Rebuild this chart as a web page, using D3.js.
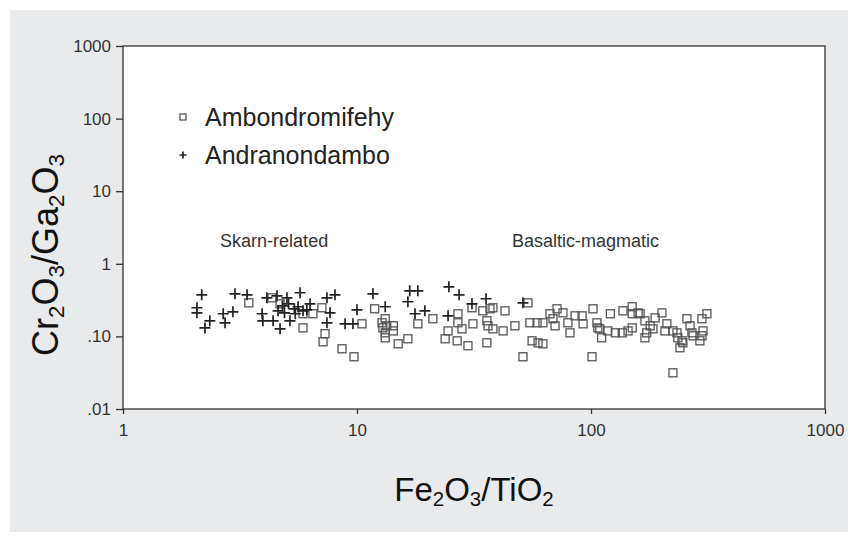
<!DOCTYPE html>
<meta charset="utf-8">
<head>
<style>
body { margin: 0; background: #fff; }
text { font-family: "Liberation Sans", Arial, sans-serif; fill: #222; }
.axis path, .axis line { stroke: #333; stroke-width: 1.3px; }
.axis text { font-size: 17px; fill: #333; }
.sq { fill: none; stroke: #555; stroke-width: 1.3px; }
.cross { stroke: #222; stroke-width: 1.7px; }
</style>
</head>
<body>
<script src="https://d3js.org/d3.v7.min.js"></script>
<div id="chart"></div>
<script>

// Fe2O3/TiO2 , Cr2O3/Ga2O3
var ambondromifehy = [
  [3.45,0.290],[4.33,0.340],[4.69,0.281],[5.88,0.205],[5.88,0.131],[6.48,0.205],
  [7.08,0.248],[7.30,0.109],[7.16,0.0843],[8.63,0.0675],[9.71,0.0524],[10.5,0.149],
  [11.9,0.240],[12.8,0.154],[12.9,0.131],[13.2,0.0957],[13.2,0.175],[13.4,0.140],
  [13.2,0.112],[14.3,0.140],[14.3,0.119],[15.0,0.0791],[16.5,0.0927],[18.2,0.149],
  [21.1,0.175],[23.8,0.0927],[24.5,0.119],[27.0,0.205],[27.0,0.154],[26.8,0.0869],
  [28.1,0.127],[29.8,0.0743],[31.0,0.248],[31.3,0.149],[34.5,0.225],[35.9,0.164],
  [36.3,0.140],[37.0,0.240],[38.1,0.248],[38.1,0.127],[42.1,0.119],[42.9,0.225],
  [35.9,0.0816],[47.3,0.140],[51.2,0.0524],[53.8,0.290],[54.8,0.154],[58.8,0.154],
  [62.3,0.154],[56.0,0.0869],[59.4,0.0816],[62.3,0.0791],[66.8,0.205],[68.8,0.175],
  [70.2,0.140],[71.6,0.240],[75.9,0.211],[79.7,0.154],[81.3,0.112],[85.5,0.192],
  [91.6,0.192],[92.5,0.149],[102,0.240],[101,0.0524],[106,0.154],[107,0.131],
  [111,0.0957],[109,0.127],[121,0.205],[118,0.119],[127,0.112],[136,0.112],
  [144,0.119],[137,0.225],[150,0.256],[150,0.205],[159,0.211],[162,0.205],
  [150,0.131],[170,0.164],[170,0.0957],[173,0.112],[179,0.140],[184,0.127],
  [188,0.180],[201,0.211],[211,0.149],[207,0.119],[224,0.119],[233,0.112],
  [235,0.0957],[240,0.0697],[245,0.0869],[257,0.175],[265,0.140],[270,0.112],
  [273,0.102],[247,0.0816],[298,0.175],[313,0.205],[301,0.119],[292,0.0869],
  [298,0.102],[224,0.0315]
];

var andranondambo = [
  [2.17,0.374],[2.07,0.248],[2.07,0.211],[3.01,0.386],[3.39,0.374],[2.35,0.164],
  [2.24,0.131],[2.68,0.205],[2.73,0.154],[2.95,0.218],[3.93,0.205],[3.96,0.164],
  [4.38,0.164],[4.69,0.127],[4.12,0.340],[4.55,0.362],[5.02,0.340],[5.71,0.399],
  [5.17,0.164],[4.8,0.264],[5.1,0.281],[5.4,0.240],[5.6,0.256],[5.88,0.225],
  [4.9,0.211],[5.45,0.205],[6.1,0.232],[6.3,0.281],[4.6,0.225],[7.44,0.340],
  [8.05,0.374],[7.67,0.211],[7.44,0.154],[10.0,0.232],[8.89,0.149],[9.61,0.149],
  [11.7,0.386],[13.2,0.256],[16.8,0.425],[18.2,0.425],[16.5,0.300],[17.7,0.205],
  [19.5,0.225],[24.7,0.482],[27.3,0.374],[24.5,0.192],[31.0,0.281],[35.6,0.330],
  [51.2,0.290]
];

var xTicks = [1, 10, 100, 1000];
var xTickLabels = ["1", "10", "100", "1000"];
var yTicks = [1000, 100, 10, 1, 0.1, 0.01];
var yTickLabels = ["1000", "100", "10", "1", ".10", ".01"];
var seriesNames = ["Ambondromifehy", "Andranondambo"];
var fieldNames = ["Skarn-related", "Basaltic-magmatic"];
var fieldPos = [[2.6, 1.7], [46, 1.7]];

var width = 857, height = 544;

var svg = d3.select("#chart").append("svg")
    .attr("width", width)
    .attr("height", height);

svg.append("rect")
    .attr("x", 10).attr("y", 10)
    .attr("width", 838).attr("height", 522)
    .attr("fill", "#e9eaeb");

var x = d3.scaleLog().domain([1, 1000]).range([123, 825]);
var y = d3.scaleLog().domain([0.01, 1000]).range([409, 46]);

svg.append("rect")
    .attr("x", x(1)).attr("y", y(1000))
    .attr("width", x(1000) - x(1)).attr("height", y(0.01) - y(1000))
    .attr("fill", "#fff")
    .attr("stroke", "#333")
    .attr("stroke-width", 1.3);

svg.append("g")
    .attr("class", "axis")
    .attr("transform", "translate(0," + y(0.01) + ")")
    .call(d3.axisBottom(x).tickValues(xTicks).tickSize(5).tickPadding(10)
      .tickFormat(function (d, i) { return xTickLabels[i]; }))
    .call(function (g) { g.select(".domain").remove(); });

svg.append("g")
    .attr("class", "axis")
    .attr("transform", "translate(" + x(1) + ",0)")
    .call(d3.axisLeft(y).tickValues(yTicks).tickSize(7).tickPadding(5)
      .tickFormat(function (d, i) { return yTickLabels[i]; }))
    .call(function (g) { g.select(".domain").remove(); });

// squares
svg.append("g").selectAll("rect")
    .data(ambondromifehy)
    .enter().append("rect")
    .attr("class", "sq")
    .attr("x", function (d) { return x(d[0]) - 4; })
    .attr("y", function (d) { return y(d[1]) - 4; })
    .attr("width", 8).attr("height", 8);

// crosses
var cross = "M-5.5,0H5.5M0,-5.5V5.5";
svg.append("g").selectAll("path")
    .data(andranondambo)
    .enter().append("path")
    .attr("class", "cross")
    .attr("transform", function (d) { return "translate(" + x(d[0]) + "," + y(d[1]) + ")"; })
    .attr("d", cross);

// legend
svg.append("rect").attr("class", "sq")
    .attr("x", 180).attr("y", 114).attr("width", 6).attr("height", 6);
svg.append("path").attr("class", "cross")
    .attr("transform", "translate(183,155)")
    .attr("d", "M-3.5,0H3.5M0,-3.5V3.5");
svg.append("text").attr("x", 205).attr("y", 126)
    .style("font-size", "25px").text(seriesNames[0]);
svg.append("text").attr("x", 205).attr("y", 164)
    .style("font-size", "25px").text(seriesNames[1]);

// field labels
svg.selectAll(".field")
    .data(fieldNames)
    .enter().append("text")
    .attr("class", "field")
    .attr("x", function (d, i) { return x(fieldPos[i][0]); })
    .attr("y", function (d, i) { return y(fieldPos[i][1]); })
    .style("font-size", "18px")
    .style("fill", "#333")
    .text(function (d) { return d; });

// axis titles with subscripts
function chem(sel, parts) {
  parts.forEach(function (p) {
    var t = sel.append("tspan").text(p[0]);
    if (p[1]) t.attr("dy", "0.25em").style("font-size", "0.62em");
    else if (p[2]) t.attr("dy", "-0.155em");
  });
}

var xt = svg.append("text")
    .attr("x", 474).attr("y", 501)
    .attr("text-anchor", "middle")
    .style("font-size", "33px")
    .style("fill", "#111");
chem(xt, [["Fe"], ["2", 1], ["O", 0, 1], ["3", 1], ["/TiO", 0, 1], ["2", 1]]);

var yt = svg.append("text")
    .attr("transform", "translate(58,255) rotate(-90)")
    .attr("text-anchor", "middle")
    .style("font-size", "36px")
    .style("fill", "#111");
chem(yt, [["Cr"], ["2", 1], ["O", 0, 1], ["3", 1], ["/Ga", 0, 1], ["2", 1], ["O", 0, 1], ["3", 1]]);

</script>
</body>
